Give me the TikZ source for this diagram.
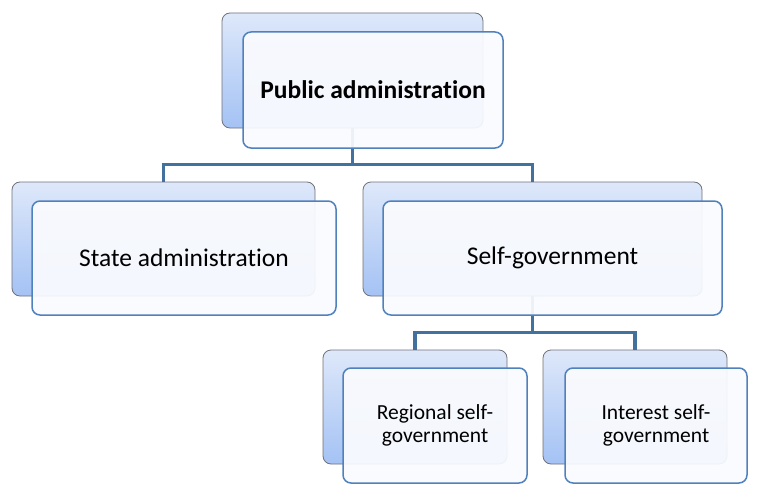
\documentclass[tikz,border=0pt]{standalone}
\usepackage{fontspec}
\setmainfont{Carlito}[Ligatures=NoCommon]
\usepackage{tikz}
\usetikzlibrary{positioning,calc}
\definecolor{linkblue}{RGB}{65,113,156}
\definecolor{frameblue}{RGB}{79,129,189}
\definecolor{backtop}{RGB}{222,232,250}
\definecolor{backbot}{RGB}{164,194,244}
\definecolor{frontfill}{RGB}{250,251,254}

\begin{document}
\begin{tikzpicture}[x=1pt, y=-1pt,
backbox/.style = {rectangle, rounded corners=8pt, draw={rgb,255:red,112;green,112;blue,120},
  line width=0.8pt, top color=backtop, bottom color=backbot, inner sep=0pt},
frontbox/.style = {rectangle, rounded corners=8pt, draw=frameblue, line width=1.5pt,
  fill=frontfill, fill opacity=0.93, text opacity=1, inner sep=0pt, align=center,
  font=\fontsize{25.5}{28}\selectfont},
smallbox/.style = {font=\fontsize{21.5}{23}\selectfont},
link/.style = {draw=linkblue, line width=3.6pt}
]
\useasboundingbox (0,0) rectangle (771,487);

% back layer
\node[backbox, minimum width=261pt, minimum height=115pt] (pubB) at (352.5,70.5) {};
\node[backbox, minimum width=303pt, minimum height=114pt] (stateB) at (163.5,239) {};
\node[backbox, minimum width=339pt, minimum height=114pt] (selfB) at (532.5,239) {};
\node[backbox, minimum width=184pt, minimum height=114pt] (regB) at (415,407) {};
\node[backbox, minimum width=184pt, minimum height=114pt] (intB) at (635,407) {};

% connectors
\coordinate (pubFork) at (352.5,164.5);
\coordinate (selfFork) at (532.5,332.5);
\draw[link] (pubB.south) -- (pubFork) -| (stateB.north);
\draw[link] (pubFork) -| (selfB.north);
\draw[link] (selfB.south) -- (selfFork) -| (regB.north);
\draw[link] (selfFork) -| (intB.north);

% front layer
\node[frontbox, minimum width=260pt, minimum height=116pt] (pub) at (373,90)
  {\bfseries Public administration};
\node[frontbox, minimum width=304pt, minimum height=114pt] (state) at (184,258)
  {State administration};
\node[frontbox, minimum width=339pt, minimum height=114pt] (self) at (552.5,258)
  {Self-government};
\node[frontbox, smallbox, minimum width=184pt, minimum height=115pt] (reg) at (435,425.5)
  {Regional self-\\government};
\node[frontbox, smallbox, minimum width=182pt, minimum height=115pt] (int) at (656,425.5)
  {Interest self-\\government};
\end{tikzpicture}
\end{document}
